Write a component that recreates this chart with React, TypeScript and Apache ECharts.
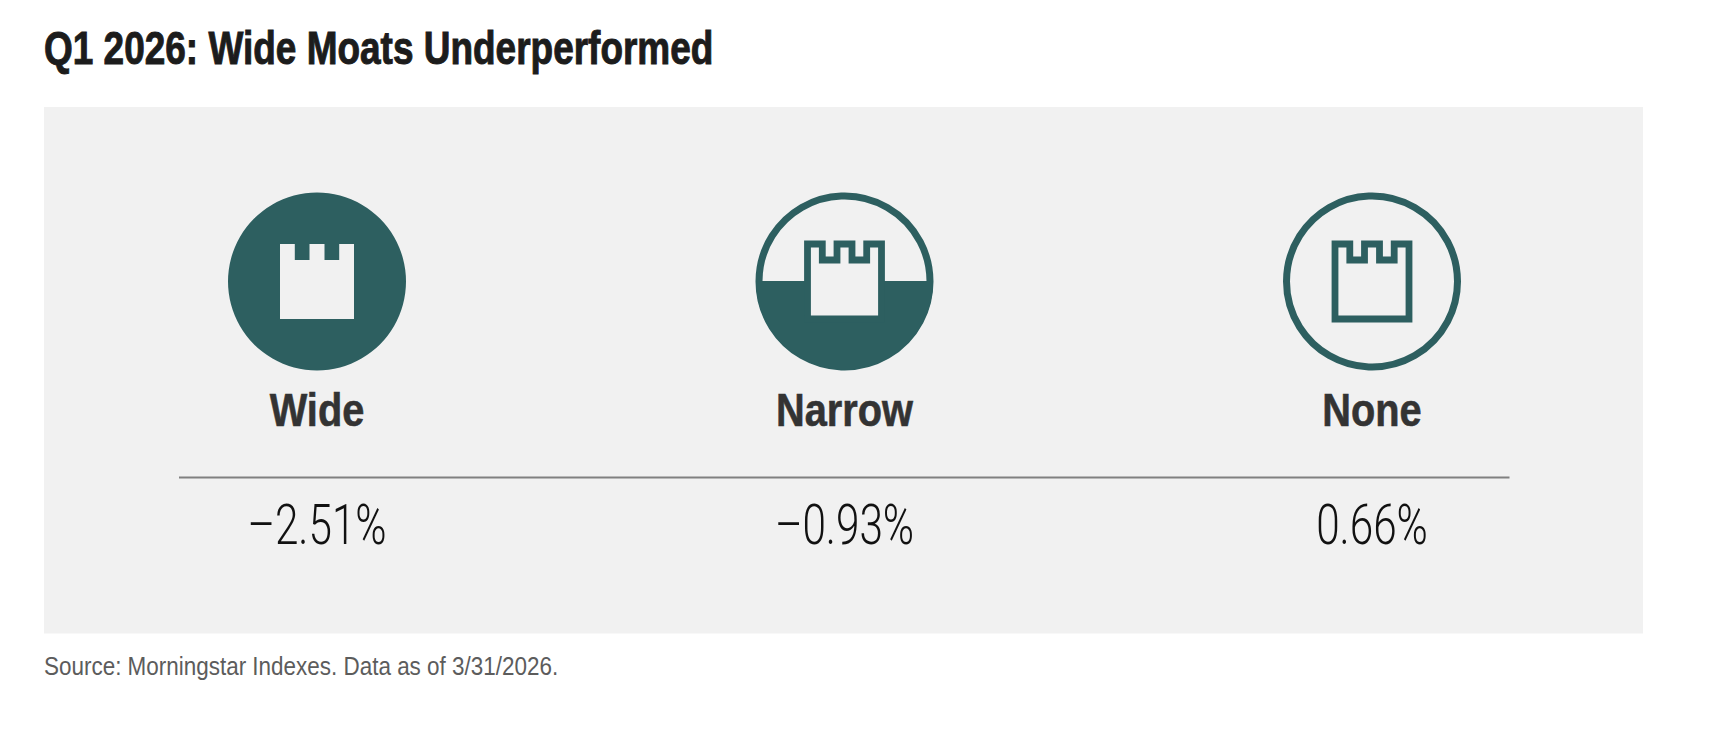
import { useEffect, useRef } from 'react'
import * as echarts from 'echarts'

const moatCategories = ['Wide', 'Narrow', 'None']
const moatReturns = [-2.51, -0.93, 0.66]
const titleText = 'Q1 2026: Wide Moats Underperformed'
const sourceText = 'Source: Morningstar Indexes. Data as of 3/31/2026.'

const TEAL = '#2d5f60'
const PANEL = '#f1f1f1'
const SANS = '"Liberation Sans", sans-serif'

// castle outline, relative to the icon centre
const towerPoints = [
  [-37, -37.5],
  [-22.2, -37.5],
  [-22.2, -21.5],
  [-7.5, -21.5],
  [-7.5, -37.5],
  [7.5, -37.5],
  [7.5, -21.5],
  [22.2, -21.5],
  [22.2, -37.5],
  [37, -37.5],
  [37, 37.5],
  [-37, 37.5],
]

function formatReturn(v: number) {
  return (v < 0 ? '\u2013' : '') + Math.abs(v).toFixed(2) + '%'
}

function moatIcon(kind: number) {
  const cy = 281.5
  const ring = { type: 'circle', shape: { cx: 0, cy, r: 85.5 }, style: { fill: 'none', stroke: TEAL, lineWidth: 7 } }
  const towerShape = { points: towerPoints.map((p) => [p[0], p[1] + cy]) }
  if (kind === 0) {
    return [
      { type: 'circle', shape: { cx: 0, cy, r: 89 }, style: { fill: TEAL } },
      { type: 'polygon', shape: towerShape, style: { fill: PANEL } },
    ]
  }
  const tower = {
    type: 'polygon',
    shape: towerShape,
    style: { fill: PANEL, stroke: TEAL, lineWidth: 6.8 },
  }
  if (kind === 1) {
    return [
      ring,
      {
        type: 'sector',
        shape: { cx: 0, cy: cy - 0.5, r: 88.5, r0: 0, startAngle: 0, endAngle: Math.PI, clockwise: true },
        style: { fill: TEAL },
      },
      tower,
    ]
  }
  return [ring, tower]
}

export default function App() {
  const ref = useRef<HTMLDivElement>(null)

  useEffect(() => {
    if (!ref.current) return

    const chart = echarts.init(ref.current, undefined, { renderer: 'svg' })
    chart.setOption({
      animation: false,
      backgroundColor: '#ffffff',
      grid: { left: 53.25, width: 1582.5, top: 0, height: 732 },
      xAxis: { type: 'category', data: moatCategories, show: false },
      yAxis: { type: 'value', min: -5, max: 5, show: false },
      graphic: [
        {
          type: 'rect',
          z: -1,
          shape: { x: 44, y: 107, width: 1599, height: 526.5 },
          style: { fill: PANEL },
        },
        {
          type: 'line',
          shape: { x1: 179, y1: 477.5, x2: 1509.5, y2: 477.5 },
          style: { stroke: '#808080', lineWidth: 2 },
        },
        {
          type: 'text',
          x: 44,
          y: 25,
          scaleX: 0.804,
          style: {
            text: titleText,
            fontFamily: SANS,
            fontWeight: 'bold',
            fontSize: 46,
            fill: '#1c1c1c',
            stroke: '#1c1c1c',
            lineWidth: 1,
          },
        },
        {
          type: 'text',
          x: 44,
          y: 653,
          scaleX: 0.864,
          style: {
            text: sourceText,
            fontFamily: SANS,
            fontSize: 26,
            fill: '#5c5c5c',
          },
        },
      ],
      series: [
        {
          type: 'custom',
          silent: true,
          data: moatReturns.map((v, i) => [i, v]),
          renderItem: (_params: any, api: any) => {
            const i = api.value(0)
            const x = api.coord([i, 0])[0]
            return {
              type: 'group',
              x,
              y: 0,
              children: [
                ...moatIcon(i),
                {
                  type: 'text',
                  x: 0,
                  y: 410,
                  scaleX: 0.865,
                  style: {
                    text: moatCategories[i],
                    fontFamily: SANS,
                    fontWeight: 'bold',
                    fontSize: 46,
                    fill: '#333333',
                    stroke: '#333333',
                    lineWidth: 0.6,
                    textAlign: 'center',
                    textVerticalAlign: 'middle',
                  },
                },
                {
                  type: 'text',
                  x: 0,
                  y: 525,
                  scaleX: 0.755,
                  style: {
                    text: formatReturn(api.value(1)),
                    fontFamily: 'Roboto, sans-serif',
                    fontWeight: 300,
                    fontSize: 56,
                    fill: '#111111',
                    textAlign: 'center',
                    textVerticalAlign: 'middle',
                  },
                },
              ],
            }
          },
        },
      ],
    })

    return () => chart.dispose()
  }, [])

  return <div ref={ref} style={{ position: 'fixed', left: 0, top: 0, width: 1720, height: 732 }} />
}
